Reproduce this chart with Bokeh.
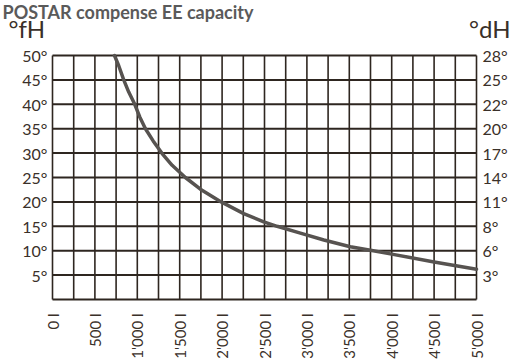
from math import pi
from bokeh.plotting import figure
from bokeh.models import FixedTicker, LinearAxis, Label, Range1d
from bokeh.embed import file_html
from bokeh.resources import INLINE

title_text = "POSTAR compense EE capacity"
left_unit = "°fH"
right_unit = "°dH"

# capacity curve: volume (litres) vs hardness (°fH)
volume_l = [731, 781, 840, 899, 970, 1029, 1096, 1187, 1293, 1411, 1567, 1744, 1989, 2255,
            2491, 2649, 2923, 3200, 3512, 3750, 4000, 4500, 5000]
hardness_fh = [50, 47.9, 45.0, 42.5, 40.0, 37.4, 35.0, 32.5, 29.9, 27.5, 25.0, 22.6, 20.0, 17.6,
               15.9, 15.0, 13.6, 12.2, 10.8, 10.1, 9.3, 7.7, 6.2]

x_ticks = [0, 500, 1000, 1500, 2000, 2500, 3000, 3500, 4000, 4500, 5000]
x_labels = ["0 l", "500 l", "1'000 l", "1'500 l", "2'000 l", "2'500 l", "3'000 l", "3'500 l",
            "4'000 l", "4'500 l", "5'000 l"]
x_minor = [250, 750, 1250, 1750, 2250, 2750, 3250, 3750, 4250, 4750]
y_ticks = [5, 10, 15, 20, 25, 30, 35, 40, 45, 50]
y_labels_fh = ["5°", "10°", "15°", "20°", "25°", "30°", "35°", "40°", "45°", "50°"]
y_labels_dh = ["3°", "6°", "8°", "11°", "14°", "17°", "20°", "22°", "25°", "28°"]

FONT = "Lato"
INK = "#3a3029"
GRID = "#2e2620"

W, H = 513, 361
# frame spans whole canvas; plot area is 52..476 px horizontally, 55..299 px vertically
px_x = 424.0 / 5000
px_y = 244.0 / 50
x_rng = Range1d(-52 / px_x, 5000 + (W - 476) / px_x)
y_rng = Range1d(-(H - 299) / px_y, 50 + 55 / px_y)

p = figure(width=W, height=H, x_range=x_rng, y_range=y_rng,
           output_backend="svg", toolbar_location=None,
           min_border=0, min_border_left=0, min_border_right=0,
           min_border_top=0, min_border_bottom=0)
p.background_fill_color = "white"
p.border_fill_color = "white"
p.outline_line_color = None
p.xgrid.visible = False
p.ygrid.visible = False

# grid drawn through the data scales
x_all = sorted(x_ticks + x_minor)
y_all = [0] + y_ticks
p.segment(x0=x_all, y0=[0] * len(x_all), x1=x_all, y1=[50] * len(x_all),
          line_color=GRID, line_width=1.6)
p.segment(x0=[0] * len(y_all), y0=y_all, x1=[5000] * len(y_all), y1=y_all,
          line_color=GRID, line_width=2)

p.line(volume_l, hardness_fh, line_color="#575350", line_width=3.5, line_join="round", line_cap="round")

# x axis
xa = p.xaxis[0]
xa.fixed_location = 0
xa.ticker = FixedTicker(ticks=x_ticks)
xa.major_label_overrides = {t: l for t, l in zip(x_ticks, x_labels)}
xa.major_label_orientation = pi / 2
xa.major_label_standoff = 14

ya = p.yaxis[0]
ya.fixed_location = 0
ya.ticker = FixedTicker(ticks=y_ticks)
ya.major_label_overrides = {t: l for t, l in zip(y_ticks, y_labels_fh)}

right = LinearAxis(fixed_location=5000, ticker=FixedTicker(ticks=y_ticks),
                   major_label_overrides={t: l for t, l in zip(y_ticks, y_labels_dh)})
p.add_layout(right, "right")

for ax, size in ((xa, "15px"), (ya, "16px"), (right, "16px")):
    ax.major_label_text_font = FONT
    ax.major_label_text_font_size = size
    ax.major_label_text_color = INK
    ax.axis_line_color = None
    ax.major_tick_line_color = None
    ax.minor_tick_line_color = None
    ax.major_tick_out = 0
    ax.major_tick_in = 0
    ax.minor_tick_out = 0
    ax.minor_tick_in = 0
ya.major_label_standoff = 5
right.major_label_standoff = 6

p.add_layout(Label(x=8, y=H - 28, x_units="screen", y_units="screen", text=left_unit,
                   text_font=FONT, text_font_size="24px", text_color=INK, text_baseline="alphabetic"))
p.add_layout(Label(x=510, y=H - 28, x_units="screen", y_units="screen", text=right_unit,
                   text_font=FONT, text_font_size="24px", text_color=INK, text_align="right",
                   text_baseline="alphabetic"))
p.add_layout(Label(x=2, y=H - 11, x_units="screen", y_units="screen", text=title_text,
                   text_font=FONT, text_font_size="18px", text_font_style="bold", text_color="#5a5a5a",
                   text_baseline="alphabetic"))

open("out.html", "w").write(file_html(p, INLINE))
